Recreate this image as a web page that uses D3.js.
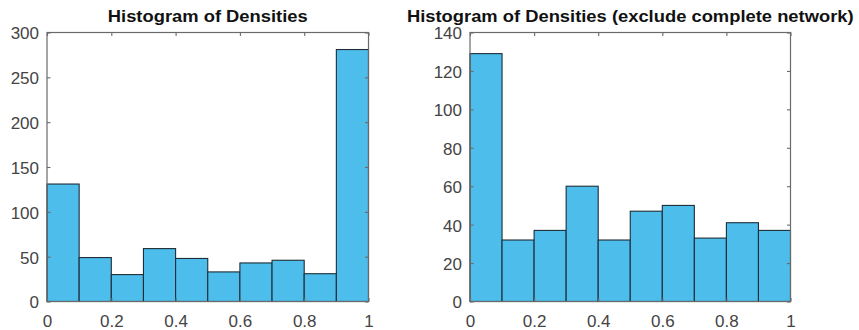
<!DOCTYPE html>
<html>
<head>
<meta charset="utf-8">
<script src="https://cdn.jsdelivr.net/npm/d3@7"></script>
<style>
  body { margin: 0; background: #fff; }
  svg { display: block; }
</style>
</head>
<body>
<div id="chart"></div>
<script>
// bin edges shared by both histograms
const binEdges = [0, 0.1, 0.2, 0.3, 0.4, 0.5, 0.6, 0.7, 0.8, 0.9, 1];
const allCounts = [131, 49, 30, 59, 48, 33, 43, 46, 31, 281];
const partialCounts = [129, 32, 37, 60, 32, 47, 50, 33, 41, 37];
const xTicks = [0, 0.2, 0.4, 0.6, 0.8, 1];
const allYTicks = [0, 50, 100, 150, 200, 250, 300];
const partialYTicks = [0, 20, 40, 60, 80, 100, 120, 140];

const width = 859, height = 330;
const svg = d3.select('#chart').append('svg')
  .attr('width', width)
  .attr('height', height);

function histogram(opts) {
  const { left, right, top, bottom, counts, yMax, yTicks, title } = opts;
  const x = d3.scaleLinear().domain([0, 1]).range([left, right]);
  const y = d3.scaleLinear().domain([0, yMax]).range([bottom, top]);
  const g = svg.append('g');

  const bins = counts.map((c, i) => ({ x0: binEdges[i], x1: binEdges[i + 1], n: c }));
  g.selectAll('rect')
    .data(bins)
    .join('rect')
      .attr('x', d => x(d.x0))
      .attr('y', d => y(d.n))
      .attr('width', d => x(d.x1) - x(d.x0))
      .attr('height', d => y(0) - y(d.n))
      .attr('fill', '#4dbdec')
      .attr('stroke', '#1f2d36')
      .attr('stroke-width', 1.1);

  const axisColor = '#6a6a6a';
  const labelColor = '#444';

  // box
  g.append('rect')
    .attr('x', left).attr('y', top)
    .attr('width', right - left).attr('height', bottom - top)
    .attr('fill', 'none')
    .attr('stroke', axisColor)
    .attr('stroke-width', 1.2);

  // inward ticks on all four sides
  const tl = 3.5;
  const xAxisB = d3.axisBottom(x).tickValues(xTicks).tickSize(-tl).tickPadding(13.5).tickFormat(d3.format('~g'));
  const xAxisT = d3.axisTop(x).tickValues(xTicks).tickSize(-tl).tickFormat('');
  const yAxisL = d3.axisLeft(y).tickValues(yTicks).tickSize(-tl).tickPadding(8);
  const yAxisR = d3.axisRight(y).tickValues(yTicks).tickSize(-tl).tickFormat('');

  const axes = [
    [xAxisB, `translate(0,${bottom})`],
    [xAxisT, `translate(0,${top})`],
    [yAxisL, `translate(${left},1)`],
    [yAxisR, `translate(${right},0)`]
  ];
  axes.forEach(([ax, tr]) => {
    const a = g.append('g').attr('transform', tr).call(ax);
    a.select('.domain').remove();
    a.selectAll('line').attr('stroke', axisColor).attr('stroke-width', 1.1);
    a.selectAll('text')
      .attr('fill', labelColor)
      .style('font-family', 'Liberation Sans, Arial, sans-serif')
      .style('font-size', '17px');
  });
  // left tick marks belong on the box edge, undo the label nudge
  g.selectAll('g').filter(function () {
    return this.getAttribute('transform') === `translate(${left},1)`;
  }).selectAll('line').attr('transform', 'translate(0,-1)');

  const cx = (left + right) / 2;
  g.append('text')
    .attr('transform', `translate(${cx},22) scale(1.08,1)`)
    .attr('text-anchor', 'middle')
    .style('font-family', 'Liberation Sans, Arial, sans-serif')
    .style('font-weight', 'bold')
    .style('font-size', '17px')
    .attr('fill', '#111')
    .text(title);
}

histogram({
  left: 47, right: 368.5, top: 32.5, bottom: 301.5,
  counts: allCounts, yMax: 300, yTicks: allYTicks,
  title: 'Histogram of Densities'
});

histogram({
  left: 470, right: 790.5, top: 32.5, bottom: 301.5,
  counts: partialCounts, yMax: 140, yTicks: partialYTicks,
  title: 'Histogram of Densities (exclude complete network)'
});
</script>
</body>
</html>
